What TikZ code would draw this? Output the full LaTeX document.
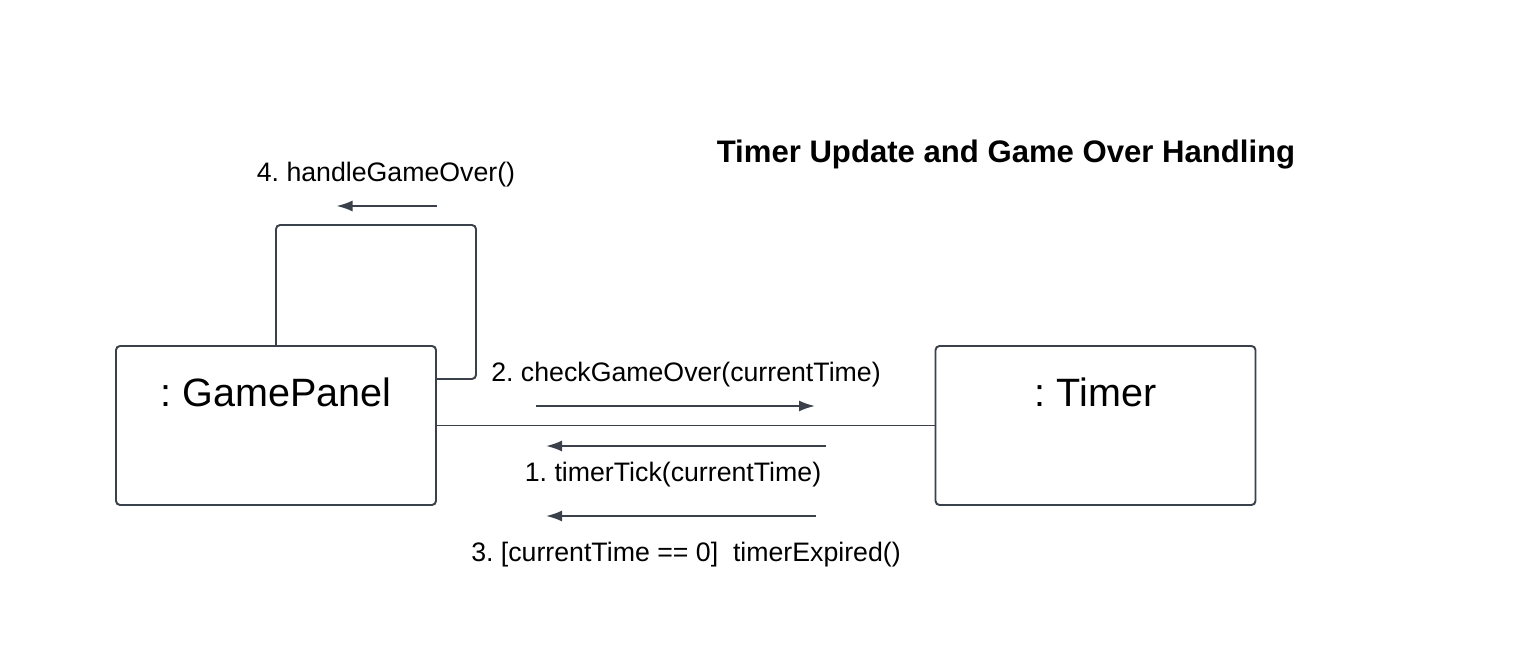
\documentclass[tikz,border=0pt]{standalone}
\usepackage{fontspec}
\setmainfont{Liberation Sans}
\usetikzlibrary{arrows.meta}
\definecolor{umlline}{HTML}{3A414A}
\frenchspacing
\begin{document}
\begin{tikzpicture}[line width = 1.1pt,
  objbox/.style={draw=umlline, rounded corners=2.3pt, minimum width=6.4cm, minimum height=3.18cm, inner sep=0pt},
  objname/.style={font=\fontsize{22.5}{25}\selectfont},
  link/.style={draw=umlline},
  msg/.style={draw=umlline, -{Latex[length=0.32cm,width=0.22cm]}},
  msglabel/.style={font=\fontsize{15.2}{18}\selectfont}]
\useasboundingbox (0,0) rectangle (30.32,-13);
\node[objbox] (gp) at (5.52,-8.51) {};
\node[objbox] (tm) at (21.91,-8.51) {};
\node[objname] (gpname) at ([yshift=-0.95cm]gp.north) {: GamePanel};
\node[objname] (tmname) at ([yshift=-0.95cm]tm.north) {: Timer};
\node[font=\bfseries\fontsize{17.7}{21}\selectfont] (title) at (20.12,-3.1) {Timer Update and Game Over Handling};
\coordinate (loopend) at ([yshift=0.93cm]gp.east);
\draw[link, rounded corners=2.3pt] (gp.north) -- ++(0,2.4) -- ++(4,0) |- (loopend);
\draw[link] (gp.east) -- (tm.west);
\coordinate (m4a) at (8.74,-4.12);
\coordinate (m4b) at (6.73,-4.12);
\draw[msg] (m4a) -- (m4b);
\node[msglabel] (m4) at (7.72,-3.5) {4. handleGameOver()};
\coordinate (m2a) at (10.72,-8.12);
\coordinate (m2b) at (16.30,-8.12);
\draw[msg] (m2a) -- (m2b);
\node[msglabel] (m2) at (13.72,-7.5) {2. checkGameOver(currentTime)};
\coordinate (m1a) at (16.52,-8.92);
\coordinate (m1b) at (10.92,-8.92);
\draw[msg] (m1a) -- (m1b);
\node[msglabel] (m1) at (13.46,-9.5) {1. timerTick(currentTime)};
\coordinate (m3a) at (16.32,-10.32);
\coordinate (m3b) at (10.92,-10.32);
\draw[msg] (m3a) -- (m3b);
\node[msglabel] (m3) at (13.72,-11.1) {3. [currentTime == 0]\ \ timerExpired()};
\end{tikzpicture}
\end{document}
